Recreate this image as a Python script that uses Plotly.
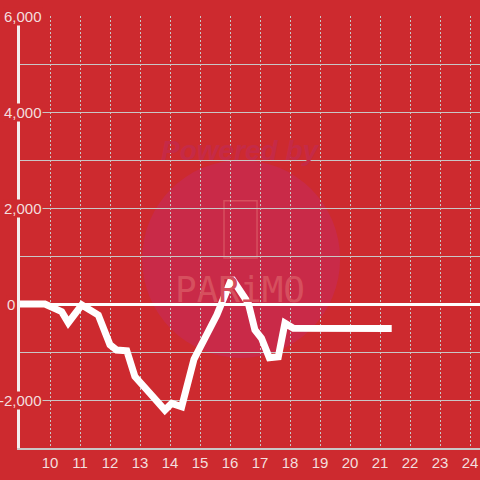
import plotly.graph_objects as go

# hour of day vs value
hours = [9.0, 9.83, 10.39, 10.61, 11.06, 11.61, 12.0, 12.22, 12.56, 12.83,
         13.33, 13.83, 14.06, 14.39, 14.8, 15.56, 16.06, 16.61, 16.83, 17.05,
         17.31, 17.61, 17.83, 18.11, 21.39]
values = [0, 0, -160, -390, -20, -230, -850, -960, -975, -1510,
          -1860, -2210, -2070, -2140, -1150, -230, 535, 15, -540, -715,
          -1120, -1100, -400, -507, -510]

x_ticks = list(range(10, 25))
y_ticks = [-2000, 0, 2000, 4000, 6000]

BG = '#cd2a2f'
GRID = '#c9c6c6'
LABEL = '#f3dede'

fig = go.Figure()

fig.add_trace(go.Scatter(
    x=hours, y=values, mode='lines',
    line=dict(color='white', width=7),
    hoverinfo='skip', showlegend=False
))

# watermark
fig.add_shape(type='circle', xref='x', yref='y',
              x0=13.07, x1=19.67, y0=-1125, y1=3000,
              fillcolor='#c92a48', line=dict(width=0), layer='below')
fig.add_shape(type='rect', xref='x', yref='y',
              x0=15.8, x1=16.9, y0=960, y1=2150,
              line=dict(color='#d64f5e', width=1.5), layer='below')
fig.add_annotation(text='<b><i>Powered by</i></b>', x=0.48, y=0.729,
                   xref='paper', yref='paper', showarrow=False,
                   font=dict(size=28, color='#c52a47', family='Liberation Sans'))
fig.add_annotation(text='PARiMO', x=0.478, y=0.366,
                   xref='paper', yref='paper', showarrow=False,
                   font=dict(size=36, color='#d64f5e', family='DejaVu Sans Mono'))

# y tick labels sitting over the axis line
for v in y_ticks:
    fig.add_annotation(text=f'{v:,}', x=(-0.009 if v == 0 else 0.05), y=v,
                       xref='paper', yref='y', xanchor='right', yanchor='middle',
                       showarrow=False, bgcolor=BG, borderpad=0,
                       font=dict(size=15, color=LABEL, family='Liberation Sans'))

fig.update_layout(
    width=480, height=480,
    margin=dict(l=20, r=0, t=16, b=32, autoexpand=False),
    paper_bgcolor=BG, plot_bgcolor=BG,
    showlegend=False
)

fig.update_xaxes(
    range=[9, 24.333], tickvals=x_ticks,
    showgrid=True, gridcolor=GRID, griddash='2px,2px', gridwidth=1,
    showline=True, linecolor=GRID, linewidth=1.5,
    zeroline=False, ticks='', automargin=False,
    tickfont=dict(size=15, color=LABEL, family='Liberation Sans')
)
fig.update_yaxes(
    range=[-3000, 6000], dtick=1000, showticklabels=False,
    showgrid=True, gridcolor=GRID, gridwidth=1, automargin=False,
    zeroline=True, zerolinecolor='white', zerolinewidth=3,
    showline=True, linecolor='#f4eeee', linewidth=3, ticks=''
)

fig.write_html('out.html', config={'displayModeBar': False},
               post_script="document.body.style.margin='0';")
